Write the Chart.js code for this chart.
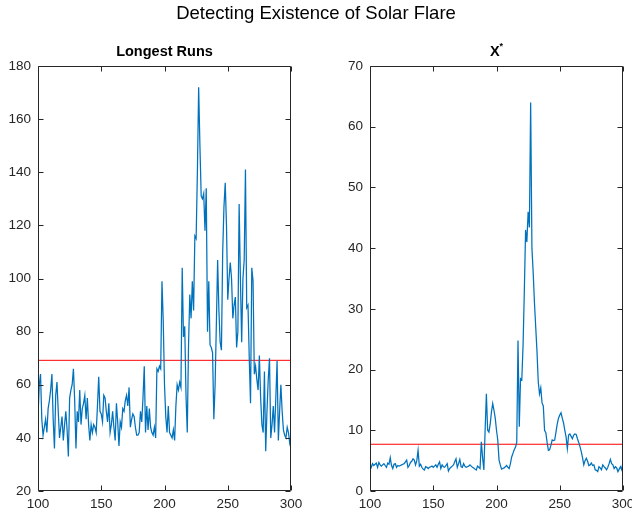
<!DOCTYPE html>
<html><head><meta charset="utf-8">
<script src="https://cdn.jsdelivr.net/npm/chart.js@4/dist/chart.umd.min.js"></script>
<style>
html,body{margin:0;padding:0;background:#fff;width:632px;height:519px;overflow:hidden;font-family:"Liberation Sans",Arial,sans-serif;}
canvas{position:absolute;top:0;}
#sup{position:absolute;left:0;top:2px;width:632px;text-align:center;font-size:18.5px;color:#000;line-height:22px;}
.sub{position:absolute;top:42px;text-align:center;font-weight:bold;font-size:14.5px;color:#000;line-height:18px;}
</style></head><body>
<canvas id="c1" width="316" height="519" style="left:0"></canvas>
<canvas id="c2" width="316" height="519" style="left:316px"></canvas>
<div id="sup">Detecting Existence of Solar Flare</div>
<div class="sub" style="left:38px;width:253px;">Longest Runs</div>
<div class="sub" style="left:370px;width:253px;">X<span style="font-size:9px;position:relative;top:-7px;">*</span></div>
<script>
const xStart = 100;
const xTicksStep = 50;
const longestRuns = [
48, 60, 64, 47, 41, 44, 47, 42, 51, 54,
58, 64, 47, 36, 56, 61, 50, 40, 44, 48,
39, 45, 50, 43, 33, 55, 58, 60, 66, 54,
36, 50, 46, 58, 45, 51, 53, 56, 47, 55,
45, 39, 45, 42, 45, 44, 42, 52, 63, 50,
49, 46, 56, 55, 50, 46, 53, 42, 45, 50,
44, 39, 53, 46, 37, 46, 44, 51, 50, 54,
56, 52, 59, 44, 47, 49, 48, 44, 41, 41,
42, 50, 46, 55, 67, 42, 52, 43, 51, 44,
42, 41, 44, 40, 66, 65, 67, 66, 99, 84,
60, 48, 42, 52, 42, 41, 40, 43, 39, 52,
60, 58, 61, 59, 104, 78, 82, 56, 42, 75,
94, 85, 99, 88, 116, 115, 140, 172, 150, 131,
130, 132, 118, 134, 80, 99, 75, 74, 72, 47,
60, 83, 107, 88, 76, 73, 110, 127, 136, 120,
92, 100, 106, 100, 85, 90, 93, 74, 80, 128,
100, 76, 100, 107, 141, 89, 90, 70, 53, 104,
99, 64, 67, 62, 58, 71, 55, 45, 42, 65,
35, 50, 62, 70, 40, 45, 52, 42, 55, 69,
39, 50, 60, 50, 43, 41, 40, 44, 42, 38,
40];
const xStar = [
4.3, 3.9, 4.5, 4.2, 4.4, 4.6, 3.9, 4.7, 4.3, 4.1,
4.3, 4.5, 4.2, 3.9, 4.6, 4.4, 5.5, 4.2, 3.7, 4.4,
4.5, 3.9, 4.2, 4.1, 4.2, 4.3, 4.4, 4.5, 4.8, 5.1,
3.9, 4.2, 4.7, 4.9, 5.3, 5.1, 4.3, 5.0, 6.7, 4.1,
4.4, 3.9, 3.6, 3.45, 4.0, 3.9, 3.7, 3.9, 4.0, 4.1,
3.9, 4.1, 4.3, 3.9, 4.4, 4.8, 3.7, 4.3, 4.0, 3.9,
4.2, 4.5, 3.3, 3.7, 3.9, 4.1, 4.3, 4.8, 5.3, 3.9,
4.5, 5.2, 4.0, 3.9, 4.5, 4.1, 3.9, 4.0, 4.1, 4.3,
4.1, 3.9, 3.8, 3.6, 3.45, 4.1, 3.9, 3.7, 8.1, 5.5,
3.45, 10, 16, 10, 9.7, 11, 13, 14.4, 13.3, 12,
10, 8.4, 5.1, 4.3, 3.6, 3.7, 3.8, 4.0, 4.2, 3.9,
3.7, 4.5, 5.6, 6.2, 6.8, 7.2, 8, 24.8, 10.6, 18.5,
18.3, 24, 33, 43, 41, 46, 43.4, 64, 40, 36,
31, 27, 23, 18, 16, 17, 14.5, 14, 10, 9.6,
8, 6.7, 6.8, 7.5, 8.4, 8.3, 8.4, 9.7, 11, 12,
12.5, 12.9, 12, 11.2, 10, 8.9, 7, 9.2, 9.4, 9.0,
8.6, 9.2, 9.4, 9.3, 8.6, 8.0, 7.3, 6.5, 5.5, 4.3,
5, 5.4, 4.9, 4.2, 4.3, 4.6, 4.2, 4.3, 3.5, 3.4,
3.2, 4, 3.8, 3.5, 4.3, 4, 3.8, 3.5, 3.9, 4.5,
5.2, 4.5, 4.3, 3.7, 4, 3.8, 3.2, 3.6, 4, 3.5,
4.9];
const leftThreshold = 69.2;
const rightThreshold = 7.7;
const leftYRange = [20, 180, 20];
const rightYRange = [0, 70, 10];
const xRange = [100, 300];

const FONT = '"Liberation Sans", Arial, sans-serif';
const AX = '#262626';

const boxPlugin = {
  id: 'boxTicks',
  afterDatasetsDraw(chart) {
    const {ctx, chartArea: a, scales: {x, y}} = chart;
    const L = 5;
    ctx.save();
    ctx.strokeStyle = AX;
    ctx.lineWidth = 1;
    ctx.beginPath();
    const l = Math.round(a.left) + 0.5, r = Math.round(a.right) - 0.5;
    const t = Math.round(a.top) + 0.5, b = Math.round(a.bottom) - 0.5;
    ctx.rect(l, t, r - l, b - t);
    x.ticks.forEach(tk => {
      const px = Math.round(x.getPixelForValue(tk.value)) + 0.5;
      ctx.moveTo(px, b); ctx.lineTo(px, b - L);
      ctx.moveTo(px, t); ctx.lineTo(px, t + L);
    });
    y.ticks.forEach(tk => {
      const py = Math.round(y.getPixelForValue(tk.value)) + 0.5;
      ctx.moveTo(l, py); ctx.lineTo(l + L, py);
      ctx.moveTo(r, py); ctx.lineTo(r - L, py);
    });
    ctx.stroke();
    ctx.restore();
  }
};

function makeChart(id, series, thr, yr, yWidth, padRight) {
  const pts = series.map((v, i) => ({x: xStart + i, y: v}));
  return new Chart(document.getElementById(id), {
    type: 'line',
    data: {
      datasets: [
        {data: pts, borderColor: '#0072BD', borderWidth: 1.25, pointRadius: 0, tension: 0, fill: false},
        {data: [{x: xRange[0], y: thr}, {x: xRange[1], y: thr}], borderColor: '#FF0000', borderWidth: 1, pointRadius: 0, fill: false}
      ]
    },
    options: {
      responsive: false, animation: false, devicePixelRatio: 1,
      layout: {padding: {left: 0, right: padRight, top: 66, bottom: 0}},
      plugins: {legend: {display: false}, tooltip: {enabled: false}, title: {display: false}},
      scales: {
        x: {
          type: 'linear', min: xRange[0], max: xRange[1],
          grid: {display: false, drawTicks: false}, border: {display: false},
          ticks: {stepSize: xTicksStep, color: AX, font: {family: FONT, size: 13.5}, padding: 5, maxRotation: 0, autoSkip: false},
          afterFit(s) { s.height = 28; s.paddingLeft = 0; s.paddingRight = 0; }
        },
        y: {
          min: yr[0], max: yr[1],
          grid: {display: false, drawTicks: false}, border: {display: false},
          ticks: {stepSize: yr[2], color: AX, font: {family: FONT, size: 13.5}, padding: 7},
          afterFit(s) { s.width = yWidth; s.paddingTop = 0; s.paddingBottom = 0; }
        }
      }
    },
    plugins: [boxPlugin]
  });
}

makeChart('c1', longestRuns, leftThreshold, leftYRange, 38, 25);
makeChart('c2', xStar, rightThreshold, rightYRange, 54, 9);
</script>
</body></html>
